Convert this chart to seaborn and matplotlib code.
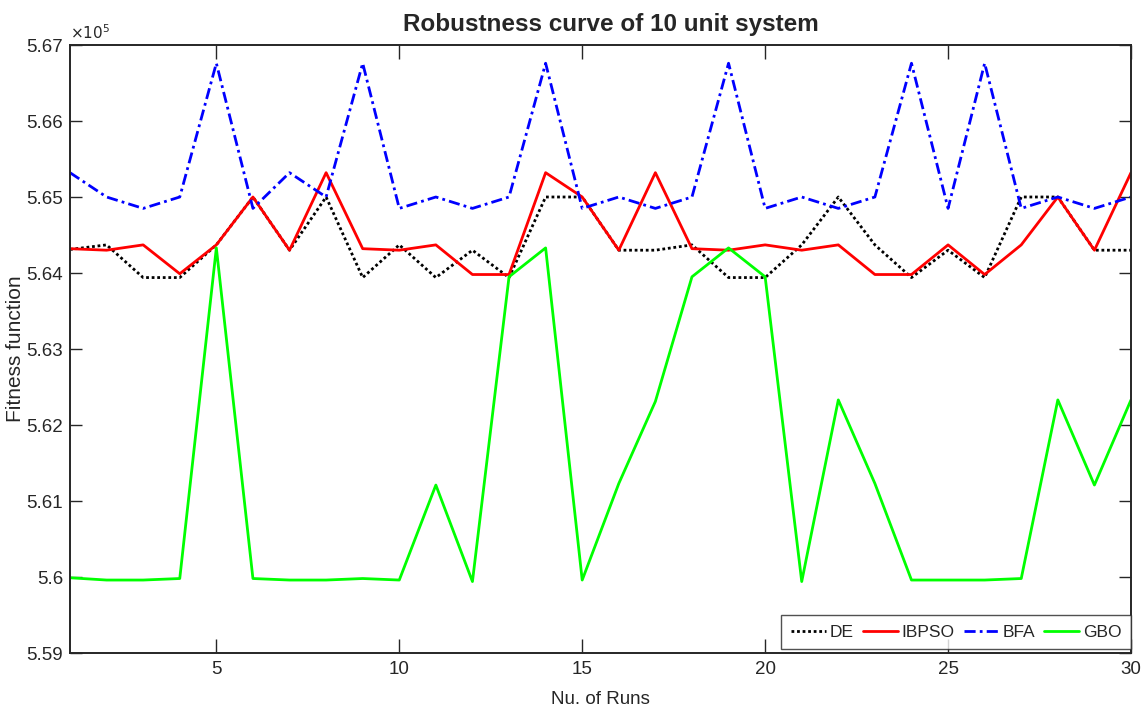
import matplotlib
matplotlib.use("Agg")
import matplotlib.pyplot as plt
import seaborn as sns
import pandas as pd
from matplotlib.ticker import FuncFormatter

# runs 1..30
runs = list(range(1, 31))

de = [564310, 564370, 563940, 563940, 564370, 565000, 564300, 565000, 563940, 564370,
      563940, 564300, 563940, 565000, 565000, 564300, 564300, 564370, 563940, 563940,
      564370, 565000, 564370, 563940, 564300, 563940, 565000, 565000, 564300, 564300]
ibpso = [564320, 564300, 564370, 563990, 564370, 565000, 564300, 565320, 564320, 564300,
         564370, 563980, 563980, 565320, 565000, 564300, 565320, 564320, 564300, 564370,
         564300, 564370, 563980, 563980, 564370, 563980, 564370, 565000, 564300, 565320]
bfa = [565320, 565000, 564850, 565000, 566760, 564850, 565320, 565000, 566760, 564850,
       565000, 564850, 565000, 566760, 564850, 565000, 564850, 565000, 566760, 564850,
       565000, 564850, 565000, 566760, 564850, 566760, 564850, 565000, 564850, 565000]
gbo = [559990, 559960, 559960, 559980, 564330, 559980, 559960, 559960, 559980, 559960,
       561210, 559940, 563950, 564330, 559960, 561230, 562310, 563950, 564330, 563950,
       559940, 562330, 561230, 559960, 559960, 559960, 559980, 562330, 561210, 562330]

series = {"DE": de, "IBPSO": ibpso, "BFA": bfa, "GBO": gbo}
colors = {"DE": "black", "IBPSO": "#ff0000", "BFA": "#0000ff", "GBO": "#00ff00"}
styles = {"DE": (0, (1, 1)), "IBPSO": "-", "BFA": (0, (4, 1.5, 1, 1.5)), "GBO": "-"}

df = pd.DataFrame({"run": runs, **series})

sns.set_style("white")
plt.rcParams["font.family"] = ["Liberation Sans", "DejaVu Sans"]
narrow = ["Liberation Sans Narrow", "Liberation Sans", "DejaVu Sans"]
grey = "#262626"

fig = plt.figure(figsize=(11.41, 7.13), dpi=100)
ax = fig.add_axes([70 / 1141, 1 - 653 / 713, (1131 - 70) / 1141, (653 - 45) / 713])

for name in series:
    sns.lineplot(data=df, x="run", y=name, ax=ax, color=colors[name],
                 linestyle=styles[name], linewidth=2.0, label=name)

ax.set_xlim(1, 30)
ax.set_ylim(559000, 567000)
ax.set_xticks([5, 10, 15, 20, 25, 30])
ax.set_yticks([559000 + 1000 * i for i in range(9)])
ax.yaxis.set_major_formatter(FuncFormatter(lambda v, _: f"{v / 1e5:g}"))
ax.text(0.0, 1.005, r"$\times10^5$", transform=ax.transAxes, fontsize=11,
        color=grey, ha="left", va="bottom")

ax.tick_params(direction="in", width=1, colors=grey, labelsize=13.5,
               top=True, right=True, bottom=True, left=True)
ax.tick_params(axis="x", length=10, pad=6)
ax.tick_params(axis="y", length=8.5, pad=5)
for lab in ax.get_xticklabels() + ax.get_yticklabels():
    lab.set_family(narrow)
for s in ax.spines.values():
    s.set_visible(True)
    s.set_color(grey)
    s.set_linewidth(1.4)

ax.set_xlabel("Nu. of Runs", fontsize=13.5, color=grey, labelpad=9, family=narrow)
ax.set_ylabel("Fitness function", fontsize=15, color=grey)
ax.yaxis.set_label_coords(-0.042, 0.5)
ax.set_title("Robustness curve of 10 unit system", fontsize=17.5, fontweight="bold",
             pad=10, x=0.51)

leg = ax.legend(loc="lower right", bbox_to_anchor=(1.0, 0.006), ncol=4,
                prop={"family": narrow, "size": 12.5}, frameon=True,
                fancybox=False, edgecolor=grey, handlelength=2.0,
                handletextpad=0.25, columnspacing=0.5, borderaxespad=0.0,
                borderpad=0.55)
leg.get_frame().set_linewidth(1.0)

fig.savefig("out.png", dpi=100)
